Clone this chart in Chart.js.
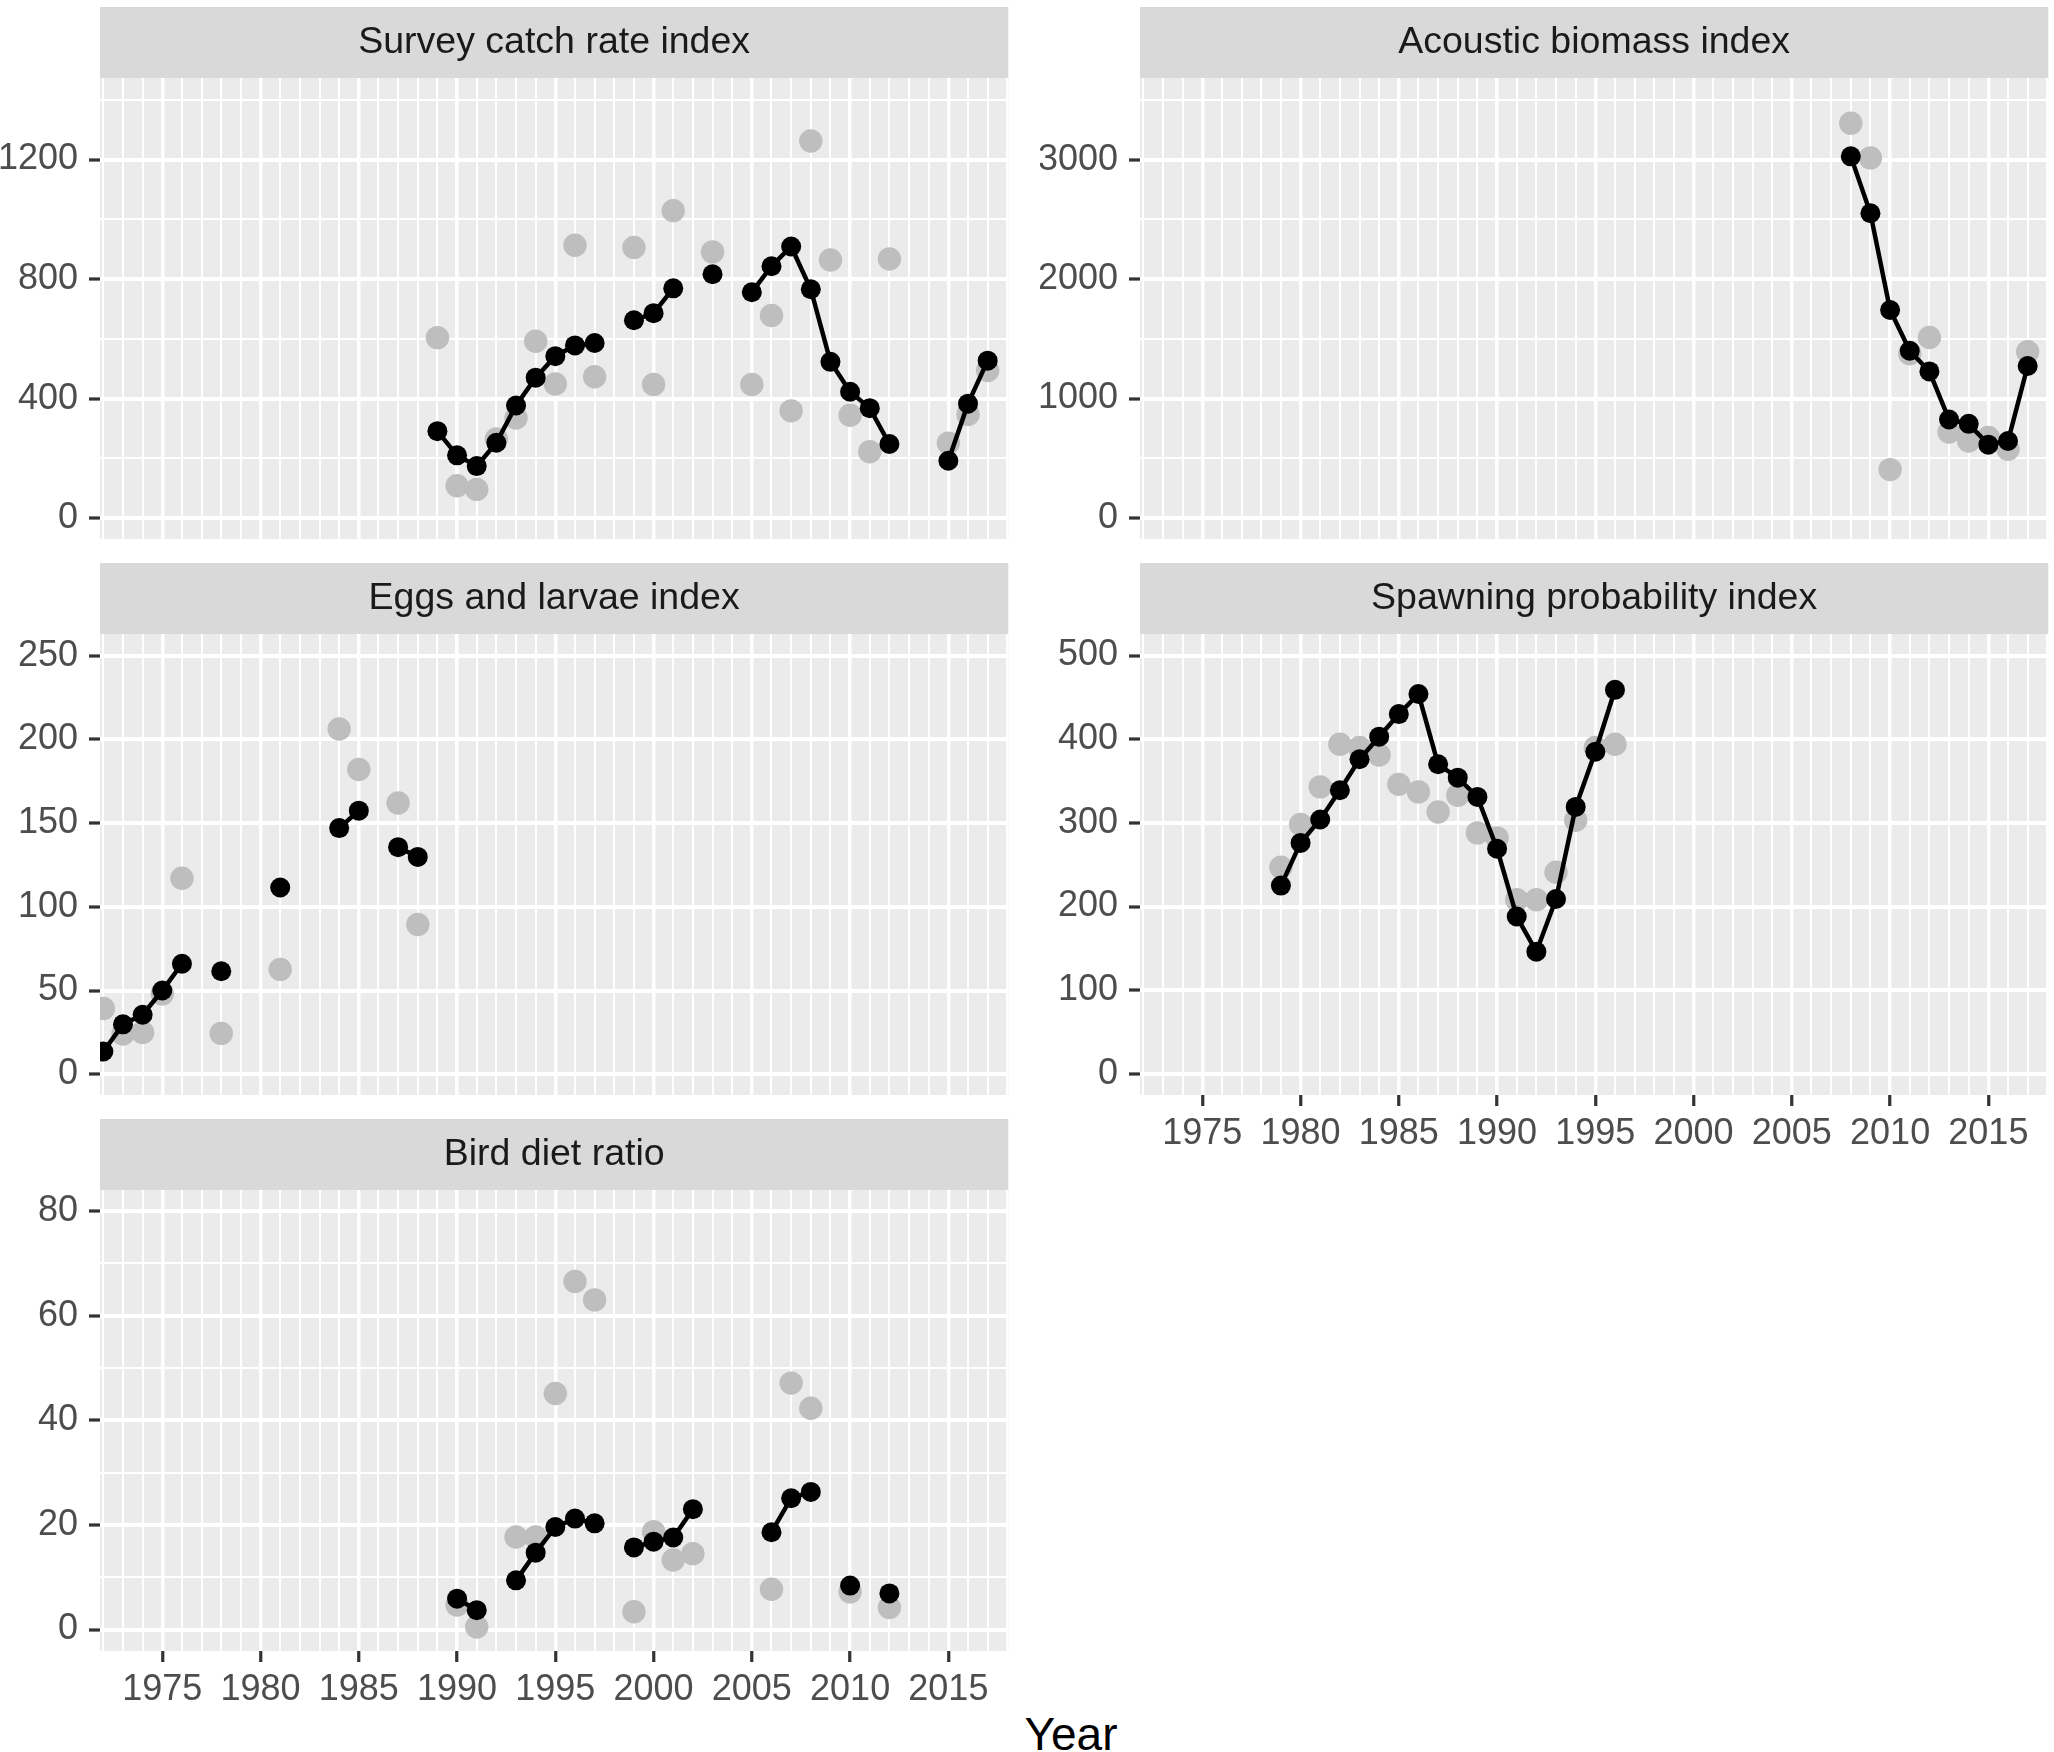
<!DOCTYPE html>
<html>
<head>
<meta charset="utf-8">
<title>Index panels</title>
<script src="https://cdn.jsdelivr.net/npm/chart.js"></script>
<style>
  html, body { margin: 0; padding: 0; overflow: hidden; background: #ffffff; }
  body { width: 2054px; height: 1752px; position: relative; font-family: "Liberation Sans", Arial, sans-serif; }
  canvas { position: absolute; }
  #xtitle { position: absolute; left: 1071px; top: 1711px; transform: translateX(-50%); font-size: 46px; line-height: 46px; color: #000; white-space: nowrap; }
</style>
</head>
<body>
<div id="xtitle">Year</div>
<script>
// tick labels
const yearLabels = [1975, 1980, 1985, 1990, 1995, 2000, 2005, 2010, 2015];
const surveyTicks = [0, 400, 800, 1200];
const acousticTicks = [0, 1000, 2000, 3000];
const eggsTicks = [0, 50, 100, 150, 200, 250];
const spawningTicks = [0, 100, 200, 300, 400, 500];
const birdTicks = [0, 20, 40, 60, 80];

// Survey catch rate index
const surveyYears = [1989, 1990, 1991, 1992, 1993, 1994, 1995, 1996, 1997, 1999, 2000, 2001, 2003, 2005, 2006, 2007, 2008, 2009, 2010, 2011, 2012, 2015, 2016, 2017];
const surveyFit = [291, 210, 174, 252, 377, 470, 542, 578, 586, 662, 686, 769, 816, 756, 843, 909, 766, 523, 423, 368, 248, 192, 383, 527];
const surveyObs = [604, 108, 96, 265, 335, 592, 449, 913, 473, 906, 447, 1029, 891, 447, 678, 359, 1262, 864, 344, 222, 867, 251, 347, 494];

// Acoustic biomass index
const acousticYears = [2008, 2009, 2010, 2011, 2012, 2013, 2014, 2015, 2016, 2017];
const acousticFit = [3027, 2551, 1741, 1400, 1227, 824, 788, 614, 644, 1272];
const acousticObs = [3305, 3014, 405, 1375, 1511, 719, 644, 674, 575, 1391];

// Eggs and larvae index
const eggsYears = [1972, 1973, 1974, 1975, 1976, 1978, 1981, 1984, 1985, 1987, 1988];
const eggsFit = [13.6, 29.8, 35.5, 50.0, 66.0, 61.5, 111.5, 147, 157.4, 135.6, 129.8];
const eggsObs = [39.3, 24.0, 24.9, 48, 117, 24.4, 62.6, 206.2, 182, 162, 89.4];

// Spawning probability index
const spawningYears = [1979, 1980, 1981, 1982, 1983, 1984, 1985, 1986, 1987, 1988, 1989, 1990, 1991, 1992, 1993, 1994, 1995, 1996];
const spawningFit = [225, 276, 304, 339, 376, 403, 430, 454, 370, 354, 331, 269, 188, 146, 209, 319, 385, 459];
const spawningObs = [247, 298, 343, 394, 390, 381, 346, 337, 313, 333, 288, 282, 208, 208, 241, 303, 390, 394];

// Bird diet ratio
const birdYears = [1990, 1991, 1993, 1994, 1995, 1996, 1997, 1999, 2000, 2001, 2002, 2006, 2007, 2008, 2010, 2012];
const birdFit = [5.9, 3.7, 9.4, 14.7, 19.6, 21.2, 20.3, 15.7, 16.8, 17.6, 23.0, 18.6, 25.1, 26.3, 8.4, 6.9];
const birdObs = [4.7, 0.5, 17.7, 17.7, 45.1, 66.5, 63.0, 3.4, 18.7, 13.3, 14.5, 7.7, 47.1, 42.3, 7.2, 4.2];

const FONT = '"Liberation Sans", Arial, sans-serif';
const X_MIN = 1971.83, X_MAX = 2018.05;
const AXIS_W = 100, STRIP_H = 71, PLOT_H = 461, PLOT_W = 912, PAD_R = 8;

// panel layout (positions only, data comes from the arrays above)
const panels = [
  { title: 'Survey catch rate index', left: 0, top: 7, xLabels: false, yMin: -70, yMax: 1473, step: 200, ticks: surveyTicks, years: surveyYears, fit: surveyFit, obs: surveyObs },
  { title: 'Acoustic biomass index', left: 1040, top: 7, xLabels: false, yMin: -176, yMax: 3683, step: 500, ticks: acousticTicks, years: acousticYears, fit: acousticFit, obs: acousticObs },
  { title: 'Eggs and larvae index', left: 0, top: 563, xLabels: false, yMin: -12.4, yMax: 262.9, step: 25, ticks: eggsTicks, years: eggsYears, fit: eggsFit, obs: eggsObs },
  { title: 'Spawning probability index', left: 1040, top: 563, xLabels: true, yMin: -25.3, yMax: 525.7, step: 50, ticks: spawningTicks, years: spawningYears, fit: spawningFit, obs: spawningObs },
  { title: 'Bird diet ratio', left: 0, top: 1119, xLabels: true, yMin: -4.1, yMax: 84, step: 10, ticks: birdTicks, years: birdYears, fit: birdFit, obs: birdObs }
];

// grey strip with the panel name + grey panel background
const stripPlugin = {
  id: 'strip',
  beforeDraw(chart, args, opts) {
    const { ctx, chartArea: a } = chart;
    ctx.save();
    ctx.fillStyle = '#D9D9D9';
    ctx.fillRect(a.left, a.top - STRIP_H, a.right - a.left, STRIP_H);
    ctx.fillStyle = '#EBEBEB';
    ctx.fillRect(a.left, a.top, a.right - a.left, a.bottom - a.top);
    ctx.fillStyle = '#1A1A1A';
    ctx.font = '37.5px ' + FONT;
    ctx.textAlign = 'center';
    ctx.textBaseline = 'middle';
    ctx.fillText(opts.text, (a.left + a.right) / 2, a.top - STRIP_H / 2);
    ctx.restore();
  }
};

// line only joins consecutive years
function fitPoints(years, vals) {
  const out = [];
  years.forEach((y, i) => {
    if (i > 0 && y - years[i - 1] > 1) out.push({ x: y - 0.5, y: null });
    out.push({ x: y, y: vals[i] });
  });
  return out;
}

function stepTicks(scale, step) {
  const start = Math.ceil(scale.min / step);
  const ticks = [];
  for (let i = start; i * step <= scale.max; i++) ticks.push({ value: i * step });
  scale.ticks = ticks;
}

function makePanel(p) {
  const xAxisH = p.xLabels ? 62 : 0;
  const padB = p.xLabels ? 8 : 36;
  const w = AXIS_W + PLOT_W + PAD_R;
  const h = STRIP_H + PLOT_H + xAxisH + padB;
  const cv = document.createElement('canvas');
  cv.width = w;
  cv.height = h;
  cv.style.left = p.left + 'px';
  cv.style.top = p.top + 'px';
  cv.style.width = w + 'px';
  cv.style.height = h + 'px';
  document.body.appendChild(cv);

  const isMajorY = v => p.ticks.includes(v);
  const isMajorX = v => v % 5 === 0;

  new Chart(cv, {
    type: 'line',
    data: {
      datasets: [
        {
          label: 'fit',
          data: fitPoints(p.years, p.fit),
          borderColor: '#000000',
          borderWidth: 4.5,
          pointRadius: 10,
          pointBackgroundColor: '#000000',
          pointBorderWidth: 0,
          spanGaps: false,
          order: 0
        },
        {
          label: 'observed',
          data: p.years.map((y, i) => ({ x: y, y: p.obs[i] })),
          showLine: false,
          pointRadius: 11.7,
          pointBackgroundColor: '#BEBEBE',
          pointBorderWidth: 0,
          order: 1
        }
      ]
    },
    options: {
      responsive: false,
      maintainAspectRatio: false,
      animation: false,
      devicePixelRatio: 1,
      events: [],
      layout: { padding: { top: STRIP_H, left: 0, right: PAD_R, bottom: padB } },
      plugins: {
        legend: { display: false },
        tooltip: { enabled: false },
        strip: { text: p.title }
      },
      scales: {
        x: {
          type: 'linear',
          bounds: 'data',
          min: X_MIN,
          max: X_MAX,
          border: { display: false },
          grid: {
            color: '#FFFFFF',
            lineWidth: c => (c.tick && isMajorX(c.tick.value)) ? 3.5 : 2,
            drawTicks: p.xLabels,
            tickLength: 11,
            tickWidth: 3.2,
            tickColor: c => (c.tick && yearLabels.includes(c.tick.value)) ? '#333333' : 'rgba(0,0,0,0)'
          },
          ticks: {
            display: p.xLabels,
            autoSkip: false,
            maxRotation: 0,
            minRotation: 0,
            padding: 6,
            color: '#4D4D4D',
            font: { family: FONT, size: 36 },
            callback: v => yearLabels.includes(v) ? String(v) : ''
          },
          afterBuildTicks: s => stepTicks(s, 1),
          afterFit: s => { s.height = xAxisH; }
        },
        y: {
          type: 'linear',
          bounds: 'data',
          min: p.yMin,
          max: p.yMax,
          border: { display: false },
          grid: {
            color: '#FFFFFF',
            lineWidth: c => (c.tick && isMajorY(c.tick.value)) ? 4 : 2,
            tickLength: 11,
            tickWidth: 3.2,
            tickColor: c => (c.tick && isMajorY(c.tick.value)) ? '#333333' : 'rgba(0,0,0,0)'
          },
          ticks: {
            padding: 11,
            color: '#4D4D4D',
            font: { family: FONT, size: 36 },
            callback: v => isMajorY(v) ? String(v) : ''
          },
          afterBuildTicks: s => stepTicks(s, p.step),
          afterFit: s => { s.width = AXIS_W; }
        }
      }
    },
    plugins: [stripPlugin]
  });
}

panels.forEach(makePanel);
</script>
</body>
</html>
